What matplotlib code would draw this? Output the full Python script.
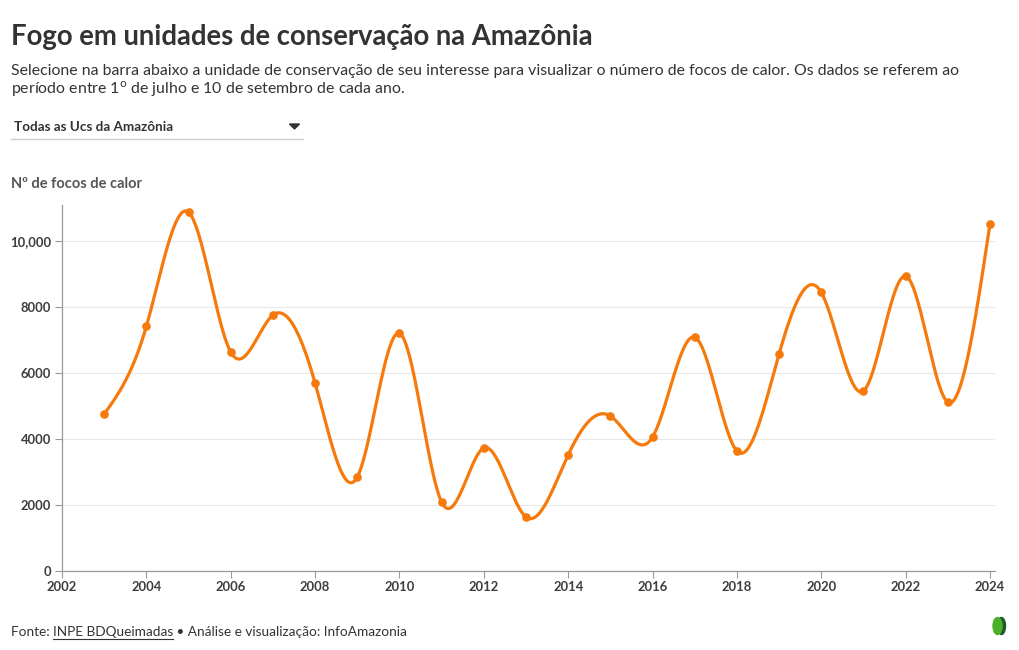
import numpy as np
import matplotlib
matplotlib.use("Agg")
import matplotlib.pyplot as plt
from matplotlib.patches import Polygon, Ellipse
from matplotlib.ticker import FuncFormatter

years = [2003, 2004, 2005, 2006, 2007, 2008, 2009, 2010, 2011, 2012, 2013,
         2014, 2015, 2016, 2017, 2018, 2019, 2020, 2021, 2022, 2023, 2024]
focos = [4760, 7420, 10880, 6640, 7760, 5700, 2850, 7210, 2090, 3730, 1640,
         3520, 4700, 4060, 7090, 3640, 6580, 8450, 5460, 8940, 5120, 10520]
y_ticks = [0, 2000, 4000, 6000, 8000, 10000]
x_ticks = list(range(2002, 2025, 2))

ORANGE = "#f67a0b"
FONT = ["Lato", "DejaVu Sans"]
plt.rcParams["font.family"] = FONT

W, H = 1020, 650
fig = plt.figure(figsize=(W / 100, H / 100), dpi=100)


def fx(x):
    return x / W


def fy(y):
    return 1 - y / H


def natural_spline(x, y, n=40):
    x = np.asarray(x, float)
    y = np.asarray(y, float)
    m = len(x)
    h = np.diff(x)
    A = np.zeros((m, m))
    b = np.zeros(m)
    A[0, 0] = 1
    A[-1, -1] = 1
    for i in range(1, m - 1):
        A[i, i - 1] = h[i - 1]
        A[i, i] = 2 * (h[i - 1] + h[i])
        A[i, i + 1] = h[i]
        b[i] = 6 * ((y[i + 1] - y[i]) / h[i] - (y[i] - y[i - 1]) / h[i - 1])
    M = np.linalg.solve(A, b)
    xs, ys = [], []
    for i in range(m - 1):
        t = np.linspace(x[i], x[i + 1], n, endpoint=(i == m - 2))
        a = x[i + 1] - t
        c = t - x[i]
        s = (M[i] * a ** 3 + M[i + 1] * c ** 3) / (6 * h[i]) \
            + (y[i] / h[i] - M[i] * h[i] / 6) * a \
            + (y[i + 1] / h[i] - M[i + 1] * h[i] / 6) * c
        xs.append(t)
        ys.append(s)
    return np.concatenate(xs), np.concatenate(ys)


ax = fig.add_axes([fx(62), fy(571), fx(995) - fx(62), fy(205) - fy(571)])
ax.set_xlim(2002, 2024.12)
ax.set_ylim(0, 11100)

sx, sy = natural_spline(years, focos)
ax.plot(sx, sy, color=ORANGE, lw=2.3, solid_capstyle="round", zorder=3)
ax.plot(years, focos, "o", color=ORANGE, ms=5.2, zorder=4)

ax.set_yticks(y_ticks)
ax.set_xticks(x_ticks)
ax.yaxis.set_major_formatter(FuncFormatter(lambda v, p: "10,000" if v >= 10000 else f"{int(v)}"))
ax.grid(axis="y", color="#e8e8e8", lw=0.8, zorder=0)
ax.set_axisbelow(True)
for s in ["top", "right"]:
    ax.spines[s].set_visible(False)
for s in ["left", "bottom"]:
    ax.spines[s].set_color("#999999")
    ax.spines[s].set_linewidth(0.9)
ax.tick_params(axis="both", colors="#999999", length=5, width=0.8,
               labelcolor="#3d3d3d", labelsize=9.4)
ax.tick_params(axis="x", pad=2)
ax.tick_params(axis="y", pad=3)
for lbl in ax.get_xticklabels() + ax.get_yticklabels():
    lbl.set_fontweight("bold")

# Title & subtitle
fig.text(fx(11), fy(45), "Fogo em unidades de conservação na Amazônia",
         fontsize=19.8, fontweight="bold", color="#333333", ha="left", va="baseline")
fig.text(fx(11), fy(75),
         "Selecione na barra abaixo a unidade de conservação de seu interesse para visualizar o número de focos de calor. Os dados se referem ao",
         fontsize=11.4, color="#333333", ha="left", va="baseline")
fig.text(fx(11), fy(94), "período entre 1$^{\\mathrm{o}}$ de julho e 10 de setembro de cada ano.",
         fontsize=11.4, color="#333333", ha="left", va="baseline")

# Dropdown
fig.text(fx(14), fy(131), "Todas as Ucs da Amazônia", fontsize=9.7, fontweight="bold",
         color="#333333", ha="left", va="baseline")
fig.add_artist(plt.Line2D([fx(11), fx(303)], [fy(139), fy(139)], color="#cccccc", lw=1))
fig.add_artist(Polygon([[fx(289.5), fy(124)], [fx(299.5), fy(124)], [fx(294.5), fy(129)]],
                       closed=True, color="#333333", transform=fig.transFigure))

# Axis title
fig.text(fx(11), fy(188), "Nº de focos de calor", fontsize=10.5, fontweight="bold",
         color="#555555", ha="left", va="baseline")

# Footer
renderer = fig.canvas.get_renderer()
t1 = fig.text(fx(11), fy(636), "Fonte: ", fontsize=9.8, color="#333333", ha="left", va="baseline")
bb1 = t1.get_window_extent(renderer)
t2 = fig.text(bb1.x1 / W, fy(636), "INPE BDQueimadas", fontsize=9.8, color="#333333",
              ha="left", va="baseline")
bb2 = t2.get_window_extent(renderer)
fig.add_artist(plt.Line2D([bb2.x0 / W, bb2.x1 / W], [fy(638.5), fy(638.5)], color="#333333", lw=0.8))
fig.text(bb2.x1 / W, fy(636), " • Análise e visualização: InfoAmazonia", fontsize=9.8,
         color="#333333", ha="left", va="baseline")

# Logo
fig.add_artist(Ellipse((fx(1001.5), fy(626)), 8 / W, 17 / H, color="#1f5a2a", transform=fig.transFigure))
fig.add_artist(Ellipse((fx(997.5), fy(626)), 9 / W, 17 / H, color="#4caf2a", transform=fig.transFigure))

fig.savefig("out.png", dpi=100)
